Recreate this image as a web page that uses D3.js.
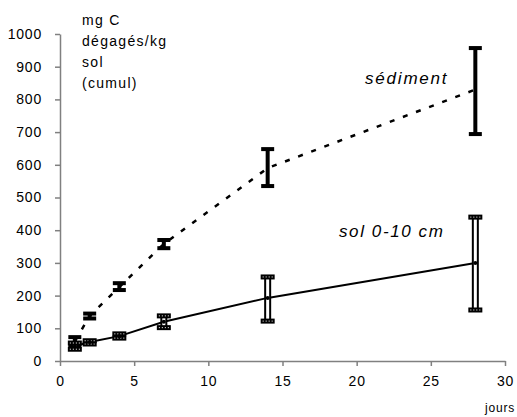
<!DOCTYPE html>
<html>
<head>
    <meta charset="utf-8">
    <title>Carbone dégagé</title>
    <script src="https://d3js.org/d3.v7.min.js"></script>
    <style>
        body { margin: 0; background: #fff; }
        text { font-family: 'Liberation Sans', Arial, sans-serif; }
    </style>
</head>
<body>
<div id="chart"></div>
<script>
    // days of incubation
    const days = [1, 2, 4, 7, 14, 28];

    // sediment: mean, low, high (mg C / kg)
    const sedMean = [60, 138, 226, 358, 590, 830];
    const sedLow = [45, 130, 217, 345, 535, 694];
    const sedHigh = [73, 145, 238, 370, 648, 957];

    // soil 0-10 cm
    const solMean = [45, 58, 76, 120, 193, 300];
    const solLow = [36, 52, 70, 102, 122, 156];
    const solHigh = [55, 62, 83, 138, 257, 440];

    const xTicks = [0, 5, 10, 15, 20, 25, 30];
    const yTicks = [0, 100, 200, 300, 400, 500, 600, 700, 800, 900, 1000];
    const yLabel = ['mg C', 'dégagés/kg', 'sol', '(cumul)'];

    const width = 517, height = 417;
    const margin = { left: 60, right: 12, top: 34, bottom: 56 };

    const svg = d3.select('#chart').append('svg')
        .attr('width', width)
        .attr('height', height);

    const x = d3.scaleLinear().domain([0, 30]).range([margin.left, width - margin.right]);
    const y = d3.scaleLinear().domain([0, 1000]).range([height - margin.bottom, margin.top]);

    // axes
    const yAxis = svg.append('g')
        .attr('transform', `translate(${margin.left},0)`)
        .call(d3.axisLeft(y).tickValues(yTicks).tickFormat(d3.format('d'))
            .tickSize(5).tickPadding(13).tickSizeOuter(0));
    const xAxis = svg.append('g')
        .attr('transform', `translate(0,${y(0)})`)
        .call(d3.axisBottom(x).tickValues(xTicks).tickFormat(d3.format('d'))
            .tickSize(5).tickPadding(10).tickSizeOuter(0));

    [xAxis, yAxis].forEach(a => {
        a.select('.domain').attr('stroke', '#808080').attr('stroke-width', 1.5);
        a.selectAll('.tick line').attr('stroke', '#808080').attr('stroke-width', 1.5);
        a.selectAll('.tick text').attr('fill', '#000')
            .style('font-size', '14px').style('letter-spacing', '0.8px')
            .style('font-family', "'Liberation Sans', Arial, sans-serif");
    });

    // y axis title (stacked lines)
    svg.append('text')
        .attr('x', 82)
        .attr('y', 25)
        .style('font-size', '14px')
        .style('letter-spacing', '1.3px')
        .selectAll('tspan')
        .data(yLabel)
        .join('tspan')
        .attr('x', 82)
        .attr('dy', (d, i) => i === 0 ? 0 : 21)
        .text(d => d);

    svg.append('text')
        .attr('x', 515)
        .attr('y', 412)
        .attr('text-anchor', 'end')
        .style('font-size', '12px')
        .style('letter-spacing', '0.8px')
        .text('jours');

    const sed = days.map((d, i) => ({ d, m: sedMean[i], lo: sedLow[i], hi: sedHigh[i] }));
    const sol = days.map((d, i) => ({ d, m: solMean[i], lo: solLow[i], hi: solHigh[i] }));

    const line = d3.line().x(p => x(p.d)).y(p => y(p.m));

    // lines
    svg.append('path')
        .datum(sed)
        .attr('d', line)
        .attr('fill', 'none')
        .attr('stroke', '#000')
        .attr('stroke-width', 2.5)
        .attr('stroke-dasharray', '5,9');

    svg.append('path')
        .datum(sol)
        .attr('d', line)
        .attr('fill', 'none')
        .attr('stroke', '#000')
        .attr('stroke-width', 2);

    // sediment error bars: solid black
    const gSed = svg.append('g');
    gSed.selectAll('line.bar').data(sed).join('line')
        .attr('x1', p => x(p.d)).attr('x2', p => x(p.d))
        .attr('y1', p => y(p.lo)).attr('y2', p => y(p.hi))
        .attr('stroke', '#000').attr('stroke-width', 4);
    ['lo', 'hi'].forEach(k => {
        gSed.selectAll('rect.' + k).data(sed).join('rect')
            .attr('x', p => x(p.d) - 6.5).attr('width', 13)
            .attr('y', p => y(p[k]) - 2).attr('height', 4)
            .attr('fill', '#000');
    });

    // soil error bars: double lines, caps black with a dotted core
    const gSol = svg.append('g');
    gSol.selectAll('rect.bar').data(sol).join('rect')
        .attr('x', p => x(p.d) - 2.5).attr('width', 5)
        .attr('y', p => y(p.hi)).attr('height', p => y(p.lo) - y(p.hi))
        .attr('fill', '#fff').attr('stroke', '#000').attr('stroke-width', 2);
    ['lo', 'hi'].forEach(k => {
        gSol.selectAll('rect.c' + k).data(sol).join('rect')
            .attr('x', p => x(p.d) - 7).attr('width', 14)
            .attr('y', p => y(p[k]) - 2.5).attr('height', 5)
            .attr('fill', '#000');
        gSol.selectAll('line.c' + k).data(sol).join('line')
            .attr('x1', p => x(p.d) - 5).attr('x2', p => x(p.d) + 5)
            .attr('y1', p => y(p[k])).attr('y2', p => y(p[k]))
            .attr('stroke', '#fff').attr('stroke-width', 1)
            .attr('stroke-dasharray', '1,2');
    });
    gSol.selectAll('circle').data(sol).join('circle')
        .attr('cx', p => x(p.d)).attr('cy', p => y(p.m)).attr('r', 2)
        .attr('fill', '#000');

    // series labels
    svg.append('text')
        .attr('x', 365).attr('y', 84)
        .style('font-size', '17px').style('font-style', 'italic')
        .style('letter-spacing', '1.8px')
        .text('sédiment');
    svg.append('text')
        .attr('x', 339).attr('y', 237)
        .style('font-size', '17px').style('font-style', 'italic')
        .style('letter-spacing', '1.6px')
        .text('sol 0-10 cm');
</script>
</body>
</html>
